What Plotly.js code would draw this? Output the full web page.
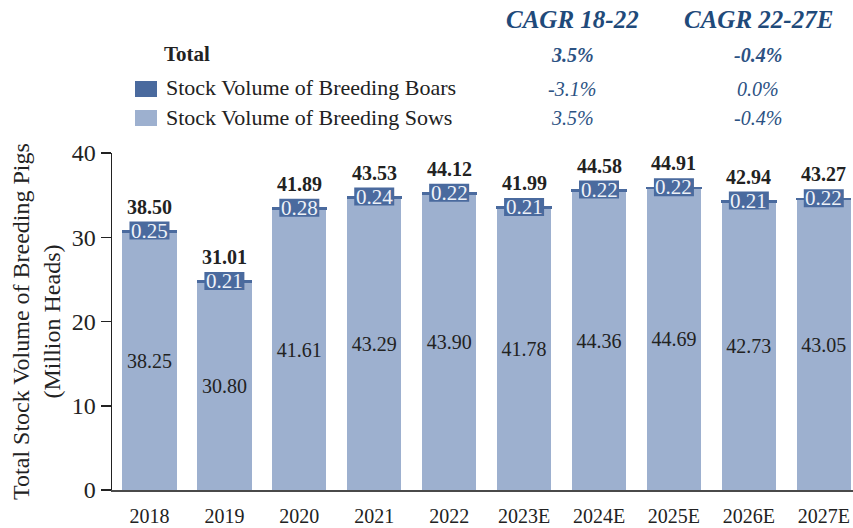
<!DOCTYPE html>
<html>
<head>
<meta charset="utf-8">
<script src="https://cdn.plot.ly/plotly-3.0.1.min.js"></script>
<style>html,body{margin:0;padding:0;background:#fff;}#chart{width:853px;height:528px;}</style>
</head>
<body>
<div id="chart"></div>
<script>
// ---- data ----
const categories = ['2018','2019','2020','2021','2022','2023E','2024E','2025E','2026E','2027E'];
const sows   = [38.25, 30.80, 41.61, 43.29, 43.90, 41.78, 44.36, 44.69, 42.73, 43.05];
const boars  = [0.25, 0.21, 0.28, 0.24, 0.22, 0.21, 0.22, 0.22, 0.21, 0.22];
const totals = [38.50, 31.01, 41.89, 43.53, 44.12, 41.99, 44.58, 44.91, 42.94, 43.27];
const yTickLabels = [0, 10, 20, 30, 40];
const legendLabels = ['Total', 'Stock Volume of Breeding Boars', 'Stock Volume of Breeding Sows'];
const cagrHeaders = ['CAGR 18-22', 'CAGR 22-27E'];
const cagrTotal = ['3.5%', '-0.4%'];
const cagrBoars = ['-3.1%', '0.0%'];
const cagrSows  = ['3.5%', '-0.4%'];

// ---- styling ----
const SERIF = 'Liberation Serif';
const SOW_COLOR = '#9db0cf';
const BOAR_COLOR = '#4a6a9e';
const TEXT = '#222222';
const CAGR_HEAD = '#1f4a7a';
const CAGR_VAL = '#2c5283';
// the reference axis labels read 0.8 of the plotted values
const AXIS_READ = 0.8;

const W = 853, H = 528;
const M = {l: 112, r: 0, t: 153, b: 38};
const PW = W - M.l - M.r, PH = H - M.t - M.b;
const px = x => (x - M.l) / PW;
const py = y => (H - M.b - y) / PH;

const sowTrace = {
  type: 'bar', name: legendLabels[2], x: categories, y: sows,
  marker: {color: SOW_COLOR, line: {width: 0}},
  text: sows.map(v => v.toFixed(2)), textposition: 'inside', insidetextanchor: 'middle',
  textangle: 0, constraintext: 'none',
  textfont: {family: SERIF, size: 20, color: TEXT},
  insidetextfont: {family: SERIF, size: 20, color: TEXT}, hoverinfo: 'skip'
};
const boarTrace = {
  type: 'bar', name: legendLabels[1], x: categories, y: boars,
  marker: {color: BOAR_COLOR, line: {color: BOAR_COLOR, width: 1}}, hoverinfo: 'skip'
};

const annotations = [];
const shapes = [];
categories.forEach((c, i) => {
  annotations.push({x: i, y: totals[i], xref: 'x', yref: 'y', text: '<b>' + totals[i].toFixed(2) + '</b>',
    showarrow: false, yanchor: 'middle', yshift: 24, font: {family: SERIF, size: 20, color: TEXT}});
  shapes.push({type: 'rect', xref: 'x', yref: 'y', xsizemode: 'pixel', ysizemode: 'pixel',
    xanchor: i, yanchor: totals[i], x0: -20, x1: 20, y0: -9, y1: 9,
    fillcolor: BOAR_COLOR, line: {width: 0}, layer: 'above'});
  annotations.push({x: i, y: totals[i], xref: 'x', yref: 'y', text: boars[i].toFixed(2),
    showarrow: false, yanchor: 'middle', yshift: 0, font: {family: SERIF, size: 21, color: '#eef2f8'}});
});

// legend block
annotations.push({xref: 'paper', yref: 'paper', x: px(162), y: py(54), xanchor: 'left', yanchor: 'middle',
  text: '<b>' + legendLabels[0] + '</b>', showarrow: false, font: {family: SERIF, size: 21, color: TEXT}});
annotations.push({xref: 'paper', yref: 'paper', x: px(164), y: py(88), xanchor: 'left', yanchor: 'middle',
  text: legendLabels[1], showarrow: false, font: {family: SERIF, size: 22, color: TEXT}});
annotations.push({xref: 'paper', yref: 'paper', x: px(164), y: py(117), xanchor: 'left', yanchor: 'middle',
  text: legendLabels[2], showarrow: false, font: {family: SERIF, size: 22, color: TEXT}});
shapes.push({type: 'rect', xref: 'paper', yref: 'paper', x0: px(135), x1: px(157), y0: py(97), y1: py(81),
  fillcolor: BOAR_COLOR, line: {width: 0}});
shapes.push({type: 'rect', xref: 'paper', yref: 'paper', x0: px(135), x1: px(157), y0: py(126), y1: py(110),
  fillcolor: SOW_COLOR, line: {width: 0}});

// CAGR table
const colX = [572, 758];
colX.forEach((cx, j) => {
  annotations.push({xref: 'paper', yref: 'paper', x: px(cx), y: py(19), xanchor: 'center', yanchor: 'middle',
    text: '<b><i>' + cagrHeaders[j] + '</i></b>', showarrow: false, font: {family: SERIF, size: 25, color: CAGR_HEAD}});
  annotations.push({xref: 'paper', yref: 'paper', x: px(cx), y: py(55), xanchor: 'center', yanchor: 'middle',
    text: '<b><i>' + cagrTotal[j] + '</i></b>', showarrow: false, font: {family: SERIF, size: 20, color: CAGR_VAL}});
  annotations.push({xref: 'paper', yref: 'paper', x: px(cx), y: py(89), xanchor: 'center', yanchor: 'middle',
    text: '<i>' + cagrBoars[j] + '</i>', showarrow: false, font: {family: SERIF, size: 20, color: CAGR_VAL}});
  annotations.push({xref: 'paper', yref: 'paper', x: px(cx), y: py(118), xanchor: 'center', yanchor: 'middle',
    text: '<i>' + cagrSows[j] + '</i>', showarrow: false, font: {family: SERIF, size: 20, color: CAGR_VAL}});
});

const layout = {
  width: W, height: H, margin: M,
  paper_bgcolor: '#ffffff', plot_bgcolor: '#ffffff',
  barmode: 'stack', bargap: 0.275, showlegend: false,
  font: {family: SERIF, color: TEXT, size: 20},
  xaxis: {
    type: 'category', range: [-0.5, 9.39], showline: true, linecolor: '#4a4a4a', linewidth: 2,
    ticks: 'outside', ticklen: 7, tickcolor: 'rgba(0,0,0,0)', showgrid: false, zeroline: false,
    tickfont: {family: SERIF, size: 20, color: TEXT}
  },
  yaxis: {
    range: [0, yTickLabels[yTickLabels.length - 1] / AXIS_READ],
    tickmode: 'array', tickvals: yTickLabels.map(v => v / AXIS_READ), ticktext: yTickLabels.map(String),
    showline: true, linecolor: '#222', linewidth: 1.5, ticks: 'outside', ticklen: 10, tickwidth: 1.5, tickcolor: '#222',
    showgrid: false, zeroline: false,
    tickfont: {family: SERIF, size: 24, color: TEXT},
    title: {text: 'Total Stock Volume of Breeding Pigs<br>(Million Heads)', font: {family: SERIF, size: 24, color: TEXT}, standoff: 4}
  },
  annotations: annotations, shapes: shapes
};

Plotly.newPlot('chart', [sowTrace, boarTrace], layout, {displayModeBar: false, staticPlot: true});
</script>
</body>
</html>
